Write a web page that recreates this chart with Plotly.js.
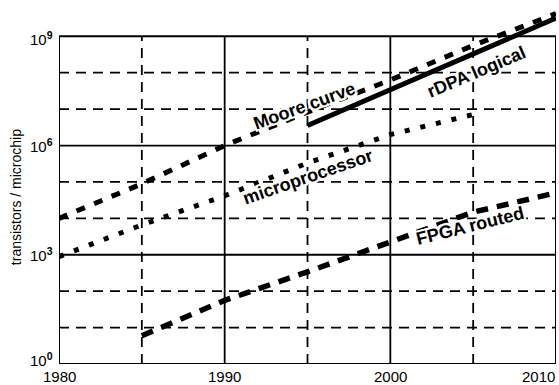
<!DOCTYPE html>
<html>
<head>
<meta charset="utf-8">
<script src="https://cdn.plot.ly/plotly-3.0.1.min.js"></script>
<style>
  html, body { margin: 0; padding: 0; background: #fff; }
  #chart { width: 559px; height: 385px; }
</style>
</head>
<body>
<div id="chart"></div>
<script>
// Transistor counts per microchip, 1980-2010 (log scale)
const mooreYears = [1980, 1985, 1990, 1995, 2000, 2005, 2010];
const mooreCount = [1.0e4, 8.9e4, 1.0e6, 8.3e6, 6.3e7, 5.6e8, 4.2e9];

const microYears = [1980, 1985, 1990, 1995, 2000, 2005];
const microCount = [890, 6600, 4.17e4, 3.31e5, 2.0e6, 7.1e6];

const rdpaYears = [1995, 2010];
const rdpaCount = [3.55e6, 3.16e9];

const fpgaYears = [1985, 1990, 1995, 2000, 2005, 2010];
const fpgaCount = [6, 56, 340, 2340, 1.48e4, 5.0e4];

// Axis ticks and grid
const xTicks = [1980, 1990, 2000, 2010];
const xMinorTicks = [1985, 1995, 2005];
const yTickExp = [0, 3, 6, 9];
const yMinorExp = [1, 2, 4, 5, 7, 8];

// Curve labels: text, year, log10(count), angle
const labelText = ['Moore curve', 'microprocessor', 'rDPA logical', 'FPGA routed'];
const labelYear = [1994.8, 1995.0, 2005.2, 2004.8];
const labelExp = [7.08, 5.13, 8.02, 3.79];
const labelAngle = [-20, -19, -23, -14];

const FONT = 'Liberation Sans, Arial, Helvetica, sans-serif';
const xMin = xTicks[0], xMax = xTicks[xTicks.length - 1];
const yMin = Math.pow(10, yTickExp[0]), yMax = Math.pow(10, yTickExp[yTickExp.length - 1]);

const traces = [
  { x: mooreYears, y: mooreCount, mode: 'lines',
    line: { color: '#000', width: 5, dash: '9px,10px' } },
  { x: microYears, y: microCount, mode: 'lines',
    line: { color: '#000', width: 5, dash: '5px,11px' } },
  { x: rdpaYears, y: rdpaCount, mode: 'lines',
    line: { color: '#000', width: 5 } },
  { x: fpgaYears, y: fpgaCount, mode: 'lines',
    line: { color: '#000', width: 5.5, dash: '12px,9px' } }
];

// Grid lines and frame, all kept inside the 10^0..10^9 box
const shapes = [];
const dashGrid = { color: '#000', width: 1.8, dash: '10px,7px' };
const solidGrid = { color: '#000', width: 1.8 };
yMinorExp.forEach(e => shapes.push({ type: 'line', layer: 'below', xref: 'x', yref: 'y',
  x0: xMin, x1: xMax, y0: Math.pow(10, e), y1: Math.pow(10, e), line: dashGrid }));
yTickExp.slice(1, -1).forEach(e => shapes.push({ type: 'line', layer: 'below', xref: 'x', yref: 'y',
  x0: xMin, x1: xMax, y0: Math.pow(10, e), y1: Math.pow(10, e), line: solidGrid }));
xMinorTicks.forEach(v => shapes.push({ type: 'line', layer: 'below', xref: 'x', yref: 'y',
  x0: v, x1: v, y0: yMin, y1: yMax, line: dashGrid }));
xTicks.slice(1, -1).forEach(v => shapes.push({ type: 'line', layer: 'below', xref: 'x', yref: 'y',
  x0: v, x1: v, y0: yMin, y1: yMax, line: solidGrid }));
shapes.push({ type: 'rect', layer: 'below', xref: 'x', yref: 'y',
  x0: xMin, x1: xMax, y0: yMin, y1: yMax, line: { color: '#000', width: 2 } });

const halo = '2px 0 0 #fff, -2px 0 0 #fff, 0 2px 0 #fff, 0 -2px 0 #fff, ' +
             '2px 2px 0 #fff, -2px -2px 0 #fff, 2px -2px 0 #fff, -2px 2px 0 #fff';

const annotations = labelText.map((t, i) => ({
  text: t, x: labelYear[i], y: labelExp[i], xref: 'x', yref: 'y',
  textangle: labelAngle[i], showarrow: false, xanchor: 'center', yanchor: 'middle',
  font: { family: FONT, size: 18, color: '#000', weight: 'bold', shadow: halo }
}));

// y tick labels (10^n); the end labels are nudged to stay inside the box height
yTickExp.forEach((e, i) => annotations.push({
  text: '10<sup><b>' + e + '</b></sup>', xref: 'paper', yref: 'y', x: 0, y: e,
  xanchor: 'right', yanchor: 'middle', xshift: -5,
  yshift: i === 0 ? 5 : (i === yTickExp.length - 1 ? -2 : 0),
  showarrow: false, borderpad: 0, font: { family: FONT, size: 15, color: '#000' }
}));

// x tick labels; the last one sits flush with the right end of the axis
xTicks.forEach((v, i) => annotations.push({
  text: String(v), xref: 'x', yref: 'paper', x: v, y: 0,
  xanchor: i === xTicks.length - 1 ? 'right' : 'center', yanchor: 'top', yshift: -3,
  showarrow: false, borderpad: 0, font: { family: FONT, size: 15, color: '#000' }
}));

// y-axis title, centred on the 10^0..10^9 box
annotations.push({
  text: 'transistors / microchip', xref: 'paper', yref: 'paper',
  x: -0.0865, y: 0.47, textangle: -90, showarrow: false,
  xanchor: 'center', yanchor: 'middle',
  font: { family: FONT, size: 14, color: '#000' }
});

const layout = {
  width: 559, height: 385,
  margin: { l: 59, r: 3, t: 9, b: 21 },
  paper_bgcolor: '#fff', plot_bgcolor: '#fff',
  showlegend: false,
  font: { family: FONT, color: '#000' },
  xaxis: {
    range: [xMin, xMax], showgrid: false, zeroline: false, showline: false,
    showticklabels: false, ticks: ''
  },
  yaxis: {
    type: 'log', range: [0, 9.75], showgrid: false, zeroline: false, showline: false,
    showticklabels: false, ticks: ''
  },
  shapes: shapes,
  annotations: annotations
};

Plotly.newPlot('chart', traces, layout, { displayModeBar: false, staticPlot: true });
</script>
</body>
</html>
